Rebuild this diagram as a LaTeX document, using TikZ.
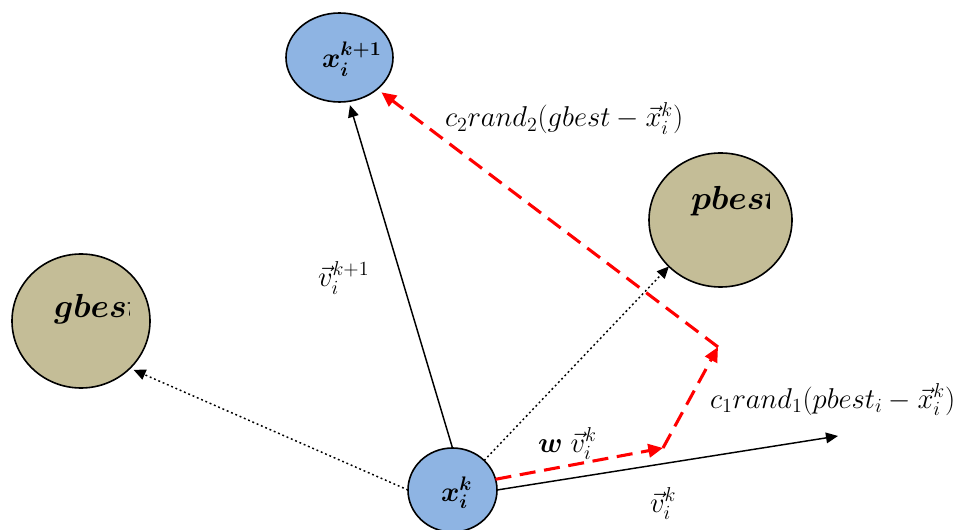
\RequirePackage{fix-cm}
\documentclass[tikz,border=0pt]{standalone}
\usepackage{amsmath,bm}
\usetikzlibrary{arrows.meta,shapes.geometric}
\definecolor{nodeblue}{RGB}{142,180,227}
\definecolor{nodetan}{RGB}{196,189,151}
\definecolor{dashred}{RGB}{255,0,0}
\begin{document}
\begin{tikzpicture}[x=0.75pt,y=-0.75pt,
  every node/.style={inner sep=0pt, outer sep=0pt},
  shapebase/.style={ellipse, draw=black, line width=1.2pt},
  particle/.style={shapebase, fill=nodeblue},
  bestnode/.style={shapebase, fill=nodetan},
  nodetext/.style={font=\fontsize{21}{25}\selectfont, anchor=base west},
  besttext/.style={font=\fontsize{25}{29}\selectfont, anchor=base west},
  lab/.style={font=\fontsize{21.5}{25}\selectfont, anchor=base west},
  vecarrow/.style={line width=1.1pt, -{Triangle[length=9pt,width=8pt]}},
  dotarrow/.style={vecarrow, dash pattern=on 1.4pt off 2.1pt},
  redarrow/.style={draw=dashred, line width=2.3pt, dash pattern=on 12pt off 6.5pt, -{Triangle[length=11pt,width=10pt]}}]
\useasboundingbox (0,0) rectangle (959,530);

% nodes
\node[particle, minimum width=80.25pt, minimum height=66.75pt] (xk1) at (339.5,57.5) {};
\node[particle, minimum width=66.75pt, minimum height=63pt] (xk) at (452.5,490) {};
\node[bestnode, minimum width=107.25pt, minimum height=100.5pt] (pbest) at (720.5,220) {};
\node[bestnode, minimum width=103.5pt, minimum height=100.5pt] (gbest) at (81,321) {};

\node[nodetext] (xk1text) at (322,68) {$\bm{x_i^{k+1}}$};
\node[nodetext] (xktext) at (441,501) {$\bm{x_i^{k}}$};
\begin{scope}
  \clip (640,140) rectangle (769,300);
  \node[besttext] (pbesttext) at (691,210) {$\bm{pbest}$};
\end{scope}
\begin{scope}
  \clip (0,240) rectangle (129,400);
  \node[besttext] (gbesttext) at (54,318) {$\bm{gbest}$};
\end{scope}

% free end and bends
\coordinate (vend) at (838,436);
\coordinate (r1) at (663,448);
\coordinate (r2) at (718,347);

% connectors
\draw[vecarrow, shorten >=3pt] (xk.90) -- (xk1.-78);
\draw[dotarrow, shorten >=3pt] (xk.180) -- (gbest.-44);
\draw[dotarrow] (xk.43) -- (pbest.222);
\draw[vecarrow] (xk.0) -- (vend);
\draw[redarrow] (xk.14) -- (r1);
\draw[redarrow] (r1) -- (r2);
\draw[redarrow, shorten >=4pt] (r2) -- (xk1.-40);

% labels
\node[lab] (lc2) at (445,127) {$c_2 rand_2(gbest - \vec{x}_i^k)$};
\node[lab] (lc1) at (710,408) {$c_1 rand_1(pbest_i - \vec{x}_i^k)$};
\node[lab] (lw) at (538,452) {$\bm{w}\;\vec{v}_i^k$};
\node[lab] (lv) at (650,512) {$\vec{v}_i^k$};
\node[lab] (lv1) at (318,287) {$\vec{v}_i^{k+1}$};
\end{tikzpicture}
\end{document}
